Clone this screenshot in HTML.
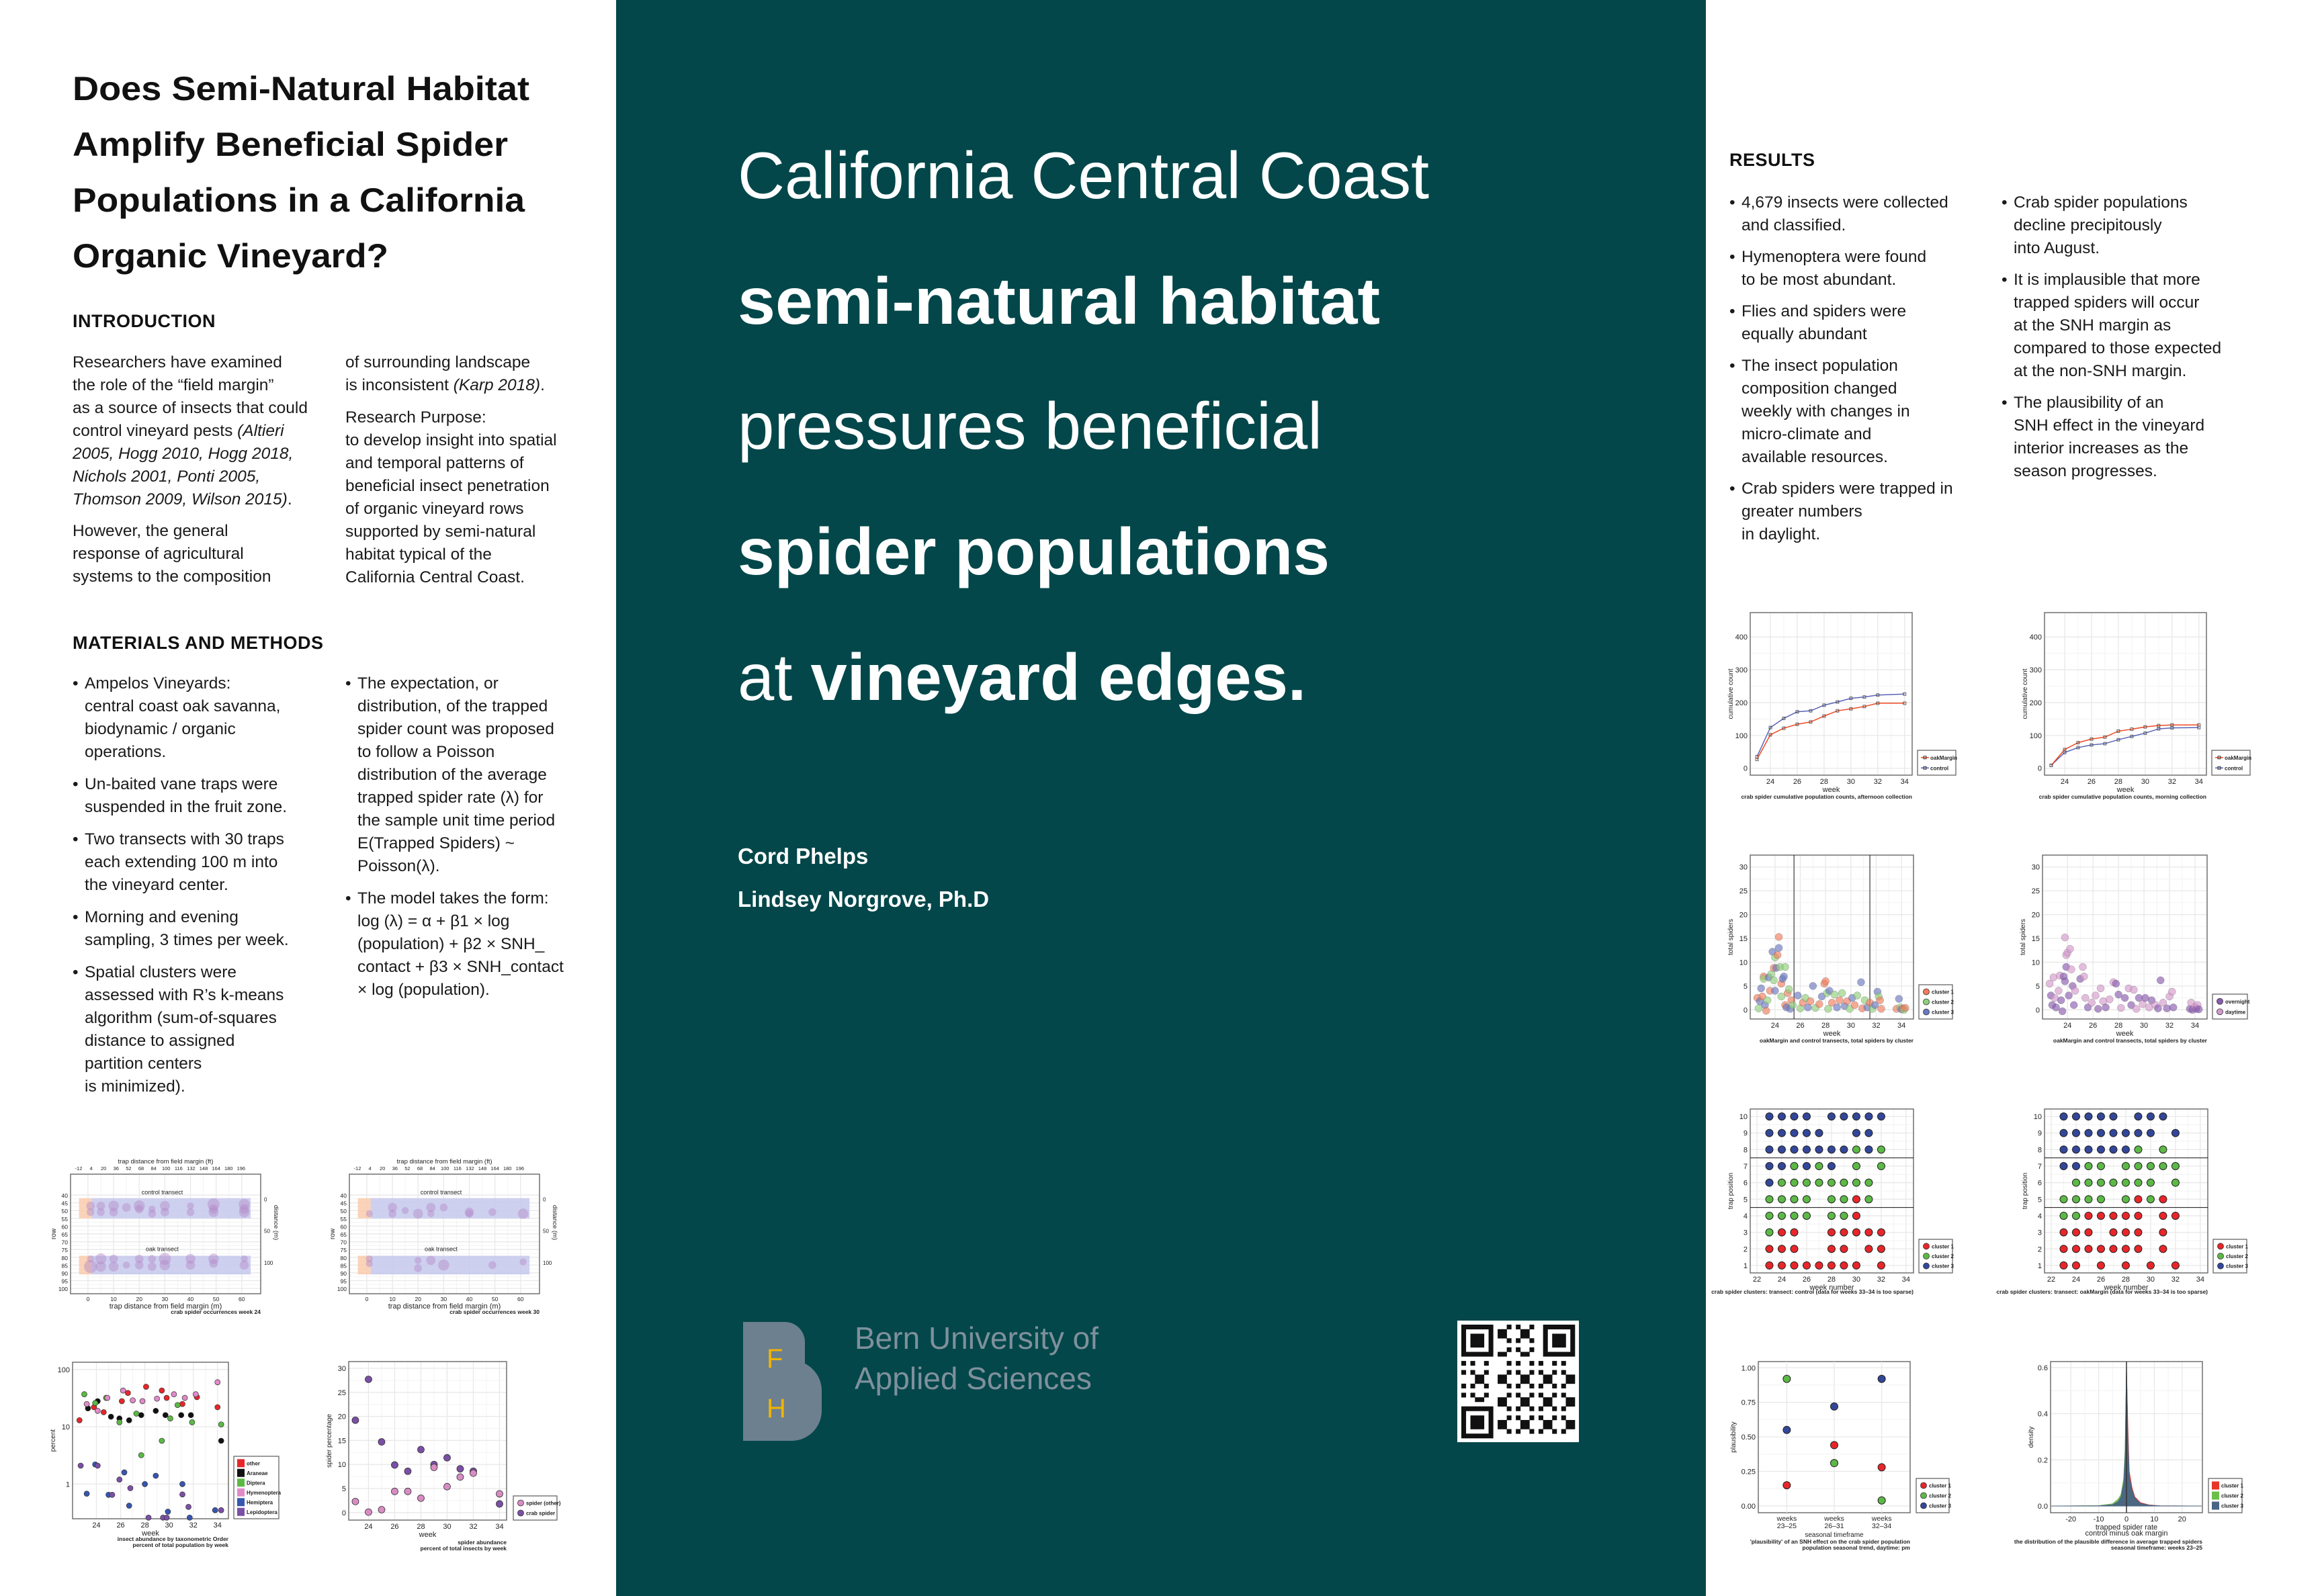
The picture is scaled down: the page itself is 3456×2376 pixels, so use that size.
<!DOCTYPE html>
<html><head><meta charset="utf-8">
<style>
html,body{margin:0;padding:0;}
body{width:3456px;height:2376px;position:relative;overflow:hidden;background:#fff;font-family:"Liberation Sans",sans-serif;color:#111;}
.abs{position:absolute;}
.body{font-size:24.5px;line-height:34px;color:#1a1a1a;white-space:nowrap;}
.h{font-size:27px;font-weight:bold;letter-spacing:0.5px;}
ul{margin:0;padding:0;list-style:none;}
li{position:relative;padding-left:18px;}
li:before{content:"•";position:absolute;left:0;}
.w li{color:#fff;}
</style></head>
<body>
<div class="abs" style="left:0;top:0;width:917px;height:2376px;background:#fff"></div>
<div class="abs" style="left:917px;top:0;width:1622px;height:2376px;background:#03474a"></div>
<div class="abs" style="left:2539px;top:0;width:917px;height:2376px;background:#fff"></div>

<svg class="abs" style="left:0;top:0" width="3456" height="2376" font-family="Liberation Sans, sans-serif">
  <g font-weight="bold" font-size="50" fill="#111">
    <text x="108" y="149" textLength="680" lengthAdjust="spacingAndGlyphs">Does Semi-Natural Habitat</text>
    <text x="108" y="232" textLength="648" lengthAdjust="spacingAndGlyphs">Amplify Beneficial Spider</text>
    <text x="108" y="315" textLength="673" lengthAdjust="spacingAndGlyphs">Populations in a California</text>
    <text x="108" y="398" textLength="470" lengthAdjust="spacingAndGlyphs">Organic Vineyard?</text>
  </g>
  <g font-size="98" fill="#fff">
    <text x="1098" y="295" textLength="1029" lengthAdjust="spacingAndGlyphs">California Central Coast</text>
    <text x="1098" y="482" font-weight="bold" textLength="956" lengthAdjust="spacingAndGlyphs">semi-natural habitat</text>
    <text x="1098" y="668" textLength="870" lengthAdjust="spacingAndGlyphs">pressures beneficial</text>
    <text x="1098" y="855" font-weight="bold" textLength="881" lengthAdjust="spacingAndGlyphs">spider populations</text>
    <text x="1098" y="1042" textLength="846" lengthAdjust="spacingAndGlyphs">at <tspan font-weight="bold">vineyard edges.</tspan></text>
  </g>
  <g>
    <path d="M1106 1968 H1168 A30 30 0 0 1 1198 1998 V2030 A45 45 0 0 1 1223 2070 V2100 A45 45 0 0 1 1178 2145 H1106 Z" fill="#6d808f"/>
    <text x="1141" y="2036" font-size="40" fill="#f0b400">F</text>
    <text x="1141" y="2110" font-size="40" fill="#f0b400">H</text>
  </g>
  <g font-size="46" fill="#7f909c">
    <text x="1272" y="2008">Bern University of</text>
    <text x="1272" y="2068">Applied Sciences</text>
  </g>
  <g id="qr"></g>
</svg>

<div class="abs h" style="left:108px;top:463px">INTRODUCTION</div>
<div class="abs body" style="left:108px;top:523px">Researchers have examined<br>the role of the “field margin”<br>as a source of insects that could<br>control vineyard pests <i>(Altieri</i><br><i>2005, Hogg 2010, Hogg 2018,</i><br><i>Nichols 2001, Ponti 2005,</i><br><i>Thomson 2009, Wilson 2015)</i>.</div>
<div class="abs body" style="left:108px;top:774px">However, the general<br>response of agricultural<br>systems to the composition</div>
<div class="abs body" style="left:514px;top:523px">of surrounding landscape<br>is inconsistent <i>(Karp 2018)</i>.</div>
<div class="abs body" style="left:514px;top:605px">Research Purpose:<br>to develop insight into spatial<br>and temporal patterns of<br>beneficial insect penetration<br>of organic vineyard rows<br>supported by semi-natural<br>habitat typical of the<br>California Central Coast.</div>

<div class="abs h" style="left:108px;top:942px">MATERIALS AND METHODS</div>
<ul class="abs body" style="left:108px;top:1001px">
<li style="margin-bottom:14px">Ampelos Vineyards:<br>central coast oak savanna,<br>biodynamic / organic<br>operations.</li>
<li style="margin-bottom:14px">Un-baited vane traps were<br>suspended in the fruit zone.</li>
<li style="margin-bottom:14px">Two transects with 30 traps<br>each extending 100 m into<br>the vineyard center.</li>
<li style="margin-bottom:14px">Morning and evening<br>sampling, 3 times per week.</li>
<li>Spatial clusters were<br>assessed with R’s k-means<br>algorithm (sum-of-squares<br>distance to assigned<br>partition centers<br>is minimized).</li>
</ul>
<ul class="abs body" style="left:514px;top:1001px">
<li style="margin-bottom:14px">The expectation, or<br>distribution, of the trapped<br>spider count was proposed<br>to follow a Poisson<br>distribution of the average<br>trapped spider rate (λ) for<br>the sample unit time period<br>E(Trapped Spiders) ~<br>Poisson(λ).</li>
<li>The model takes the form:<br>log (λ) = α + β1 × log<br>(population) + β2 × SNH_<br>contact + β3 × SNH_contact<br>× log (population).</li>
</ul>

<div class="abs" style="left:1098px;top:1243px;color:#fff;font-size:33px;line-height:64px;font-weight:bold">Cord Phelps<br>Lindsey Norgrove, Ph.D</div>

<div class="abs h" style="left:2574px;top:223px">RESULTS</div>
<ul class="abs body" style="left:2574px;top:285px">
<li style="margin-bottom:13px">4,679 insects were collected<br>and classified.</li>
<li style="margin-bottom:13px">Hymenoptera were found<br>to be most abundant.</li>
<li style="margin-bottom:13px">Flies and spiders were<br>equally abundant</li>
<li style="margin-bottom:13px">The insect population<br>composition changed<br>weekly with changes in<br>micro-climate and<br>available resources.</li>
<li>Crab spiders were trapped in<br>greater numbers<br>in daylight.</li>
</ul>
<ul class="abs body" style="left:2979px;top:285px">
<li style="margin-bottom:13px">Crab spider populations<br>decline precipitously<br>into August.</li>
<li style="margin-bottom:13px">It is implausible that more<br>trapped spiders will occur<br>at the SNH margin as<br>compared to those expected<br>at the non-SNH margin.</li>
<li>The plausibility of an<br>SNH effect in the vineyard<br>interior increases as the<br>season progresses.</li>
</ul>

<svg id="charts" class="abs" style="left:0;top:0" width="3456" height="2376" font-family="Liberation Sans, sans-serif"></svg>

<script>
// ---------- data ----------
const cumWeeks=[23,24,25,26,27,28,29,30,31,32,34];
const aftOak=[27,102,122,134,141,159,175,181,188,198,198];
const aftControl=[35,124,152,172,175,192,202,213,217,223,226];
const mornOak=[9,57,78,89,95,113,119,126,130,132,132];
const mornControl=[9,48,63,71,75,87,97,107,120,123,124];
const cumYTicks=[0,100,200,300,400];
const weekTicks=[24,26,28,30,32,34];
const weekTicks2=[22,24,26,28,30,32,34];
const clusterPts=[[22.6,2.5,1],[22.7,0.3,2],[22.8,1.8,3],[22.9,4.5,3],[23.0,2.8,1],[23.1,7,1],[23.1,6.5,2],[23.2,1,3],[23.3,-0.2,1],[23.4,2,2],[23.5,6.8,3],[23.6,4,1],[23.7,7.5,2],[23.8,12.2,3],[23.9,8.8,1],[23.9,6.2,2],[24.0,11,2],[24.0,4,3],[24.1,8.8,3],[24.2,11.5,1],[24.3,13,3],[24.3,15.3,1],[24.4,9,2],[24.5,5.5,1],[24.5,2.8,2],[24.6,6.5,3],[24.7,7,3],[24.8,9,2],[24.8,1,1],[24.9,0.5,3],[25.0,3.5,1],[25.1,4.3,2],[25.2,0.2,3],[25.3,2,1],[25.4,1,2],[25.8,3,3],[26.0,0.3,2],[26.2,1.5,1],[26.4,2.5,2],[26.6,0.5,3],[26.8,1.8,1],[27.0,5,3],[27.2,0.4,2],[27.5,1.2,1],[27.7,2.8,3],[27.9,5.5,1],[28.0,6,1],[28.1,3.5,2],[28.2,0.2,2],[28.3,4,3],[28.5,1.5,1],[28.7,3.2,2],[28.9,0.5,3],[29.1,2,1],[29.3,3.5,2],[29.5,0.8,3],[29.7,1.8,1],[29.9,0.2,2],[30.1,2.5,3],[30.3,1,1],[30.5,3,2],[30.8,5.8,3],[30.9,0.3,1],[31.1,2,2],[31.3,0.5,3],[31.5,1.5,1],[31.7,0.2,2],[31.9,1,3],[32.1,3.8,3],[32.2,2.8,2],[32.3,2,1],[32.4,0.2,1],[33.6,0.2,1],[33.8,2.3,3],[33.9,0.5,2],[34.0,0.1,3],[34.1,0.3,1],[34.2,0,2],[34.3,0.4,1]];
const dayPts=[[22.6,5.5,2],[22.7,3,1],[22.8,1,1],[22.9,6.8,2],[23.0,2.5,2],[23.1,0.5,1],[23.3,4,2],[23.4,7.2,2],[23.5,2,1],[23.6,-0.3,1],[23.7,7,1],[23.8,6,1],[23.8,15.2,2],[23.9,11.5,2],[23.9,9,1],[24.0,12,2],[24.1,3,1],[24.2,12.8,2],[24.3,8.5,2],[24.4,5,1],[24.5,1,1],[24.6,4,2],[25.0,6.5,1],[25.2,9,2],[25.3,7,2],[25.4,2.5,2],[25.6,0.5,1],[25.9,1.5,2],[26.2,3,2],[26.4,0.2,1],[26.6,4.5,2],[26.8,1.8,2],[27.0,0.5,1],[27.3,2.2,2],[27.6,5.8,2],[27.8,5.5,1],[28.0,3.2,1],[28.2,0.4,2],[28.5,2.5,1],[28.8,4.5,2],[29.0,1,1],[29.2,4.2,2],[29.4,0.2,2],[29.6,2.5,1],[29.9,1.2,2],[30.1,2.5,1],[30.4,0.5,2],[30.6,2,1],[30.9,1,2],[31.1,0.3,1],[31.3,6.2,1],[31.5,1.5,2],[31.8,0.3,1],[32.0,2.8,2],[32.2,3.8,2],[32.3,0.5,1],[33.6,0.2,1],[33.7,1.5,2],[33.8,0,1],[34.0,0.6,2],[34.1,0.2,1],[34.2,1,2],[34.3,0.1,1]];
const spiderYTicks=[0,5,10,15,20,25,30];
const trapWeeks=[23,24,25,26,27,28,29,30,31,32];
const controlGrid=["bbbb.bbbbb","bbbbb..bb.","bbbbbbbgbg","bbgbgb.g.g","bgggggggg.","gggg.ggrg.","gggg.ggr..","grr..rrrrr","rrr..rr.rr","rrrrrrrr.r"];
const oakGrid=["bbbbb.bbb.","bbbbbbbb.b","bbbbbbg.g.","bbgg.ggggg",".ggggggg.g","gggg.grgr.","ggrrrrr.rr","rrr.rrr.r.","rrrrrrr.r.","rr.r.r.r.r"];
const trapTicks=[1,2,3,4,5,6,7,8,9,10];
const plausCats=["weeks\n23–25","weeks\n26–31","weeks\n32–34"];
const plausC1=[0.15,0.44,0.28];
const plausC2=[0.92,0.31,0.04];
const plausC3=[0.55,0.72,0.92];
const plausTicks=[0,0.25,0.5,0.75,1];
const densX=[-27,-10,-5,-3,-2,-1,-0.5,0,0.5,1,2,3,5,8,12,27];
const densC1=[0,0.001,0.005,0.015,0.03,0.08,0.17,0.6,0.35,0.15,0.08,0.04,0.015,0.005,0.001,0];
const densC2=[0,0.002,0.01,0.03,0.05,0.12,0.25,0.6,0.2,0.09,0.05,0.025,0.01,0.003,0,0];
const densC3=[0,0.001,0.006,0.02,0.04,0.1,0.22,0.62,0.3,0.13,0.07,0.035,0.012,0.004,0.001,0];
const densXTicks=[-20,-10,0,10,20];
const densYTicks=[0,0.2,0.4,0.6];
const map24Dist=[1,1,5,5,10,10,15,20,20,25,25,30,30,40,40,49,49,49,61,61,61, 1,1,5,5,10,10,15,20,20,25,25,30,30,40,40,49,49,61,61];
const map24Row=[47,51,47,51,47,51,48,47,49,49,52,47,51,47,51,46,49,51,46,49,51, 81,86,81,86,81,86,85,81,85,81,86,81,85,81,85,81,84,81,85];
const map24Size=[6,5,6,5,9,6,6,10,6,4,5,8,6,4,5,12,7,8,10,8,9, 4,14,10,9,6,8,4,6,6,5,6,12,9,8,7,9,6,4,7];
const map30Dist=[1,10,10,15,20,25,25,30,40,40,49,61, 1,1,20,20,25,30,49,61];
const map30Row=[52,48,52,50,52,48,52,48,51,52,51,52, 81,84,82,87,82,85,85,83];
const map30Size=[4,7,5,4,8,7,4,5,7,5,5,9, 4,4,4,5,7,10,5,4];
const ftTicks=[-12,4,20,36,52,68,84,100,116,132,148,164,180,196];
const mTicks=[0,10,20,30,40,50,60];
const rowTicks=[40,45,50,55,60,65,70,75,80,85,90,95,100];
const orderNames=["other","Araneae","Diptera","Hymenoptera","Hemiptera","Lepidoptera"];
const orderWeeks=[[22.6,23.8,24.6,26.1,26.6,28.1,29.4,29.8,31.1,32.3,34.0],[23.3,24.1,25.2,25.9,26.7,27.7,28.9,29.7,31.0,31.8,34.3],[23.0,23.9,24.8,25.9,27.3,27.7,29.4,30.1,30.7,31.9,34.3],[23.2,24.1,24.9,26.2,27.0,27.8,29.0,30.4,31.3,32.2,34.0],[23.2,23.9,25.0,26.3,26.7,28.0,28.9,29.9,31.1,31.7,33.8],[22.7,24.1,25.3,25.9,26.8,28.3,29.5,29.8,31.1,31.6,34.3]];
const orderPct=[[13,22,18,28,39,50,43,32,25,33,22],[21,28,15,14,13,16,19,16,16,16,5.7],[37,26,32,12,17,3.2,5.7,14,24,12,11],[25,19,32,43,29,28,31,37,32,37,60],[0.68,2.2,0.65,1.6,0.42,1.0,1.4,0.33,1.0,0.26,0.35],[2.1,2.1,0.65,1.2,0.85,0.26,0.26,0.26,0.66,0.4,0.35]];
const pctTicks=[1,10,100];
const abWeeks=[23,24,25,26,27,28,29,30,31,32,34];
const abCrab=[19.2,27.7,14.7,9.9,8.6,13.1,10.0,11.4,9.1,8.6,1.8];
const abOther=[2.3,0.1,0.6,4.4,4.4,3.0,9.4,5.4,7.4,8.2,3.9];

// ---------- helpers ----------
const NS='http://www.w3.org/2000/svg';
const root=document.getElementById('charts');
function mk(tag,parent){const e=document.createElementNS(NS,tag);parent.appendChild(e);return e;}
function at(e,o){for(const k in o)e.setAttribute(k,o[k]);return e;}
function txt(parent,x,y,s,size,anchor,extra){const t=at(mk('text',parent),Object.assign({x:x,y:y,'font-size':size,'text-anchor':anchor||'middle',fill:'#222'},extra||{}));t.textContent=s;return t;}

function chart(name,b,xd,yd,xt,yt,xlab,ylab,opts){
  opts=opts||{};
  const g=mk('g',root);
  
  
  const X=v=>b.x0+(v-xd[0])/(xd[1]-xd[0])*(b.x1-b.x0);
  const Y=v=>b.y1-(v-yd[0])/(yd[1]-yd[0])*(b.y1-b.y0);
  at(mk('rect',g),{x:b.x0,y:b.y0,width:b.x1-b.x0,height:b.y1-b.y0,fill:'#fff'});
  const grid=mk('g',g);
  
  
  for(let i=0;i<xt.length;i++){
    if(!opts.noXGrid){at(mk('line',grid),{x1:X(xt[i]),x2:X(xt[i]),y1:b.y0,y2:b.y1,stroke:'#e8e8e8','stroke-width':1.3});
      if(i<xt.length-1){const m=(xt[i]+xt[i+1])/2;at(mk('line',grid),{x1:X(m),x2:X(m),y1:b.y0,y2:b.y1,stroke:'#f3f3f3','stroke-width':1});}}
    const lab=txt(g,X(xt[i]),b.y1+(opts.xTickGap||13),opts.xfmt?opts.xfmt(xt[i]):String(xt[i]),opts.tick||11);
    
    
  }
  for(let i=0;i<yt.length;i++){
    const yy=opts.ylog?Y(Math.log10(yt[i])):Y(yt[i]);
    at(mk('line',grid),{x1:b.x0,x2:b.x1,y1:yy,y2:yy,stroke:'#e8e8e8','stroke-width':1.3});
    if(i<yt.length-1&&!opts.ylog){const m=Y((yt[i]+yt[i+1])/2);at(mk('line',grid),{x1:b.x0,x2:b.x1,y1:m,y2:m,stroke:'#f3f3f3','stroke-width':1});}
    const lab=txt(g,b.x0-4,yy+4,opts.yfmt?opts.yfmt(yt[i]):String(yt[i]),opts.tick||11,'end');
    
    
  }
  at(mk('rect',g),{x:b.x0,y:b.y0,width:b.x1-b.x0,height:b.y1-b.y0,fill:'none',stroke:'#707070','stroke-width':1.5});
  if(xlab){const t=txt(g,(b.x0+b.x1)/2,b.y1+(opts.xLabGap||25),xlab,11);}
  if(ylab){const cx=b.x0-(opts.yLabGap||26),cy=(b.y0+b.y1)/2;const t=txt(g,cx,cy,ylab,10,'middle',{transform:`rotate(-90 ${cx} ${cy})`});}
  return {g,X,Y,b};
}
function caption(c,lines,dy){
  lines.forEach((s,i)=>{const t=txt(c.g,c.b.x1,c.b.y1+dy+i*9,s,8.5,'end',{'font-weight':'bold'});
    
    });
}
function legend(parent,box,labels,colors,shape){
  const g=mk('g',parent);
  
  
  at(mk('rect',g),{x:box[0],y:box[1],width:box[2]-box[0],height:box[3]-box[1],fill:'#fff',stroke:'#666','stroke-width':1.3});
  const step=(box[3]-box[1]-6)/labels.length;
  labels.forEach((l,i)=>{
    const cy=box[1]+3+step*(i+0.5);
    const e=mk('g',g);
    
    
    if(shape==='line'){at(mk('line',e),{x1:box[0]+5,x2:box[0]+17,y1:cy,y2:cy,stroke:colors[i],'stroke-width':1.5});at(mk('rect',e),{x:box[0]+9,y:cy-2,width:4,height:4,fill:'none',stroke:'#333'});}
    else if(shape==='square'){at(mk('rect',e),{x:box[0]+5,y:cy-6,width:11,height:12,fill:colors[i]});}
    else{at(mk('circle',e),{cx:box[0]+11,cy:cy,r:4.5,fill:colors[i],stroke:'#333','stroke-width':0.8});}
    txt(e,box[0]+19,cy+3,l,8,'start',{'font-weight':'bold'});
  });
}
const RED='#e8262a',GRN='#5cb946',BLU='#33479a';

// ---------- cumulative charts ----------
function cumChart(name,x0,x1,oak,ctl,cap,lx){
  const c=chart(name,{x0:x0,x1:x1,y0:912,y1:1154},[22.5,34.56],[-21,474],weekTicks,cumYTicks,'week','cumulative count');
  [[ctl,'#5a64b8'],[oak,'#f04a24']].forEach(([arr,col])=>{
    const pl=mk('polyline',c.g);
    at(pl,{points:cumWeeks.map((w,i)=>c.X(w)+','+c.Y(arr[i])).join(' '),fill:'none',stroke:col,'stroke-width':1.5});
    
    
    cumWeeks.forEach((w,i)=>{const p=at(mk('rect',c.g),{x:c.X(w)-2,y:c.Y(arr[i])-2,width:4,height:4,fill:'none',stroke:'#444','stroke-width':0.8});
      
      });
  });
  legend(c.g,[lx,1117,lx+57,1154],['oakMargin','control'],['#f04a24','#5a64b8'],'line');
  caption(c,[cap],35);
}
cumChart('cumulative-afternoon-chart',2605,2846,aftOak,aftControl,'crab spider cumulative population counts, afternoon collection',2854);
cumChart('cumulative-morning-chart',3043,3284,mornOak,mornControl,'crab spider cumulative population counts, morning collection',3292);

// ---------- scatter total spiders ----------
function spiderScatter(name,x0,x1,pts,cols,labels,lbox,vlines){
  const c=chart(name,{x0:x0,x1:x1,y0:1273,y1:1517},[22.04,34.95],[-1.93,32.5],weekTicks,spiderYTicks,'week','total spiders');
  if(vlines)vlines.forEach(v=>{const l=at(mk('line',c.g),{x1:c.X(v),x2:c.X(v),y1:1273,y2:1517,stroke:'#111','stroke-width':1});});
  pts.forEach(p=>{const d=at(mk('circle',c.g),{cx:c.X(p[0]),cy:c.Y(p[1]),r:5.5,fill:cols[p[2]-1],'fill-opacity':0.65,stroke:'#666','stroke-width':0.3});
    
    });
  legend(c.g,lbox,labels,cols);
  caption(c,['oakMargin and control transects, total spiders by cluster'],35);
}
spiderScatter('spiders-by-cluster-chart',2605,2848,clusterPts,['#f07c5c','#8fd07a','#6b78c2'],['cluster 1','cluster 2','cluster 3'],[2856,1466,2906,1517],[25.5,31.5]);
spiderScatter('spiders-by-time-chart',3040,3285,dayPts,['#8a5cb0','#d59acd'],['overnight','daytime'],[3293,1480,3345,1517]);

// ---------- trap position cluster grids ----------
function trapGrid(name,x0,x1,grid,cap,lx){
  const c=chart(name,{x0:x0,x1:x1,y0:1651,y1:1895},[21.46,34.6],[0.55,10.45],weekTicks2,trapTicks,'week number','trap position');
  [7.5,4.5].forEach(v=>{const l=at(mk('line',c.g),{x1:x0,x2:x1,y1:c.Y(v),y2:c.Y(v),stroke:'#111','stroke-width':1});});
  const colMap={r:RED,g:GRN,b:BLU};
  grid.forEach((row,ri)=>{const pos=10-ri;
    trapWeeks.forEach((w,wi)=>{const ch=row[wi];if(ch==='.')return;
      const d=at(mk('circle',c.g),{cx:c.X(w),cy:c.Y(pos),r:5.5,fill:colMap[ch],stroke:'#222','stroke-width':1});
      
      });});
  legend(c.g,[lx,1845,lx+50,1895],['cluster 1','cluster 2','cluster 3'],[RED,GRN,BLU]);
  caption(c,[cap],31);
}
trapGrid('control-clusters-chart',2605,2848,controlGrid,'crab spider clusters: transect: control (data for weeks 33–34 is too sparse)',2856);
trapGrid('oak-clusters-chart',3043,3286,oakGrid,'crab spider clusters: transect: oakMargin (data for weeks 33–34 is too sparse)',3294);

// ---------- plausibility ----------
(function(){
  const c=chart('plausibility-chart',{x0:2617,x1:2843,y0:2027,y1:2252},[-0.6,2.6],[-0.049,1.045],[],plausTicks,null,'plausibility',{yfmt:v=>v.toFixed(2),yLabGap:34});
  plausCats.forEach((s,i)=>{at(mk('line',c.g),{x1:c.X(i),x2:c.X(i),y1:2027,y2:2252,stroke:'#e8e8e8','stroke-width':1.3});
    s.split('\n').forEach((p,j)=>{const t=txt(c.g,c.X(i),2264+j*11,p,10.5);});});
  txt(c.g,2730,2288,'seasonal timeframe',10);
  [[plausC1,RED],[plausC2,GRN],[plausC3,BLU]].forEach(([arr,col])=>arr.forEach((v,i)=>{
    const d=at(mk('circle',c.g),{cx:c.X(i),cy:c.Y(v),r:5.5,fill:col,stroke:'#222','stroke-width':1});
    
    }));
  legend(c.g,[2852,2201,2901,2252],['cluster 1','cluster 2','cluster 3'],[RED,GRN,BLU]);
  caption(c,["'plausibility' of an SNH effect on the crab spider population",'population seasonal trend, daytime: pm'],46);
})();

// ---------- density ----------
(function(){
  const c=chart('density-chart',{x0:3052,x1:3278,y0:2027,y1:2252},[-27.3,27.3],[-0.029,0.626],densXTicks,densYTicks,'trapped spider rate','density',{yfmt:v=>v.toFixed(1)});
  txt(c.g,3165,2286,'control minus oak margin',11);
  [[densC1,'#e8362a',0.9],[densC2,'#6cc04a',0.9],[densC3,'#4a6485',0.95]].forEach(([arr,col,op])=>{
    const pts=densX.map((x,i)=>c.X(x)+','+c.Y(arr[i])).join(' ');
    const a=at(mk('polygon',c.g),{points:c.X(densX[0])+','+c.Y(0)+' '+pts+' '+c.X(densX[densX.length-1])+','+c.Y(0),fill:col,'fill-opacity':op,stroke:col,'stroke-width':0.8});
    
    });
  const l=at(mk('line',c.g),{x1:c.X(0),x2:c.X(0),y1:2027,y2:2252,stroke:'#333','stroke-width':1.5});
  
  
  legend(c.g,[3287,2201,3337,2252],['cluster 1','cluster 2','cluster 3'],['#e8362a','#6cc04a','#4a6485'],'square');
  caption(c,['the distribution of the plausible difference in average trapped spiders','seasonal timeframe: weeks 23–25'],46);
})();

// ---------- occurrence maps ----------
function occMap(name,x0,x1,dist,row,size,cap){
  const c=chart(name,{x0:x0,x1:x1,y0:1748,y1:1926},[-6.8,67.4],[103.4,26.6],mTicks,rowTicks,'trap distance from field margin (m)','row',{tick:8.5,xTickGap:11,xLabGap:22,yLabGap:22});
  [[42,55],[79,91]].forEach(([a,b2])=>{
    const o=at(mk('rect',c.g),{x:c.X(-3.5),y:c.Y(a),width:c.X(1.5)-c.X(-3.5),height:c.Y(b2)-c.Y(a),fill:'#f9c8a8','fill-opacity':0.8});
    
    
    const r=at(mk('rect',c.g),{x:c.X(1.5),y:c.Y(a),width:c.X(63.5)-c.X(1.5),height:c.Y(b2)-c.Y(a),fill:'#c5c8ec','fill-opacity':0.85});
    
    });
  txt(c.g,c.X(29),c.Y(39.5),'control transect',9);
  txt(c.g,c.X(29),c.Y(76),'oak transect',9);
  dist.forEach((d,i)=>{const b=at(mk('circle',c.g),{cx:c.X(d),cy:c.Y(row[i]),r:Math.sqrt(size[i])*2.6,fill:'#b48ac8','fill-opacity':0.45});
    
    });
  ftTicks.forEach(f=>{const t=txt(c.g,c.X(f/3.28),1742,String(f),7.5);});
  txt(c.g,(x0+x1)/2,1732,'trap distance from field margin (ft)',9.5);
  [[0,42.7],[50,63],[100,83.6]].forEach(([v,r])=>{txt(c.g,x1+5,c.Y(r)+3,String(v),8,'start');});
  const cx=x1+20,cy=1820;txt(c.g,cx,cy,'distance (m)',9.5,'middle',{transform:`rotate(90 ${cx} ${cy})`});
  caption(c,[cap],30);
}
occMap('occurrence-week24-map',105,388,map24Dist,map24Row,map24Size,'crab spider occurrences week 24');
occMap('occurrence-week30-map',520,803,map30Dist,map30Row,map30Size,'crab spider occurrences week 30');

// ---------- insect abundance ----------
(function(){
  const c=chart('insect-abundance-chart',{x0:108,x1:340,y0:2028,y1:2261},[22.03,34.9],[-0.605,2.127],weekTicks,pctTicks,'week','percent',{ylog:true});
  const cols=[RED,'#111',GRN,'#e08ac8','#3656b0','#7b4fa6'];
  orderWeeks.forEach((ws,k)=>ws.forEach((w,i)=>{
    const d=at(mk('circle',c.g),{cx:c.X(w),cy:c.Y(Math.log10(orderPct[k][i])),r:4,fill:cols[k],stroke:'#333','stroke-width':0.7});
    
    }));
  legend(c.g,[348,2168,415,2261],orderNames,cols,'square');
  caption(c,['insect abundance by taxonometric Order','percent of total population by week'],33);
})();

// ---------- spider abundance ----------
(function(){
  const c=chart('spider-abundance-chart',{x0:519,x1:754,y0:2027,y1:2263},[22.49,34.54],[-1.56,31.4],weekTicks,spiderYTicks,'week','spider percentage');
  [[abCrab,'#7b4fa6'],[abOther,'#d98cc4']].forEach(([arr,col])=>abWeeks.forEach((w,i)=>{
    const d=at(mk('circle',c.g),{cx:c.X(w),cy:c.Y(arr[i]),r:5,fill:col,stroke:'#333','stroke-width':0.8});
    
    }));
  legend(c.g,[764,2227,829,2263],['spider (other)','crab spider'],['#d98cc4','#7b4fa6']);
  caption(c,['spider abundance','percent of total insects by week'],36);
})();

// ---------- QR code ----------
(function(){
  const q=document.getElementById('qr');
  const x0=2169,y0=1966,S=181,N=25,m=(S-12)/N;
  at(mk('rect',q),{x:x0,y:y0,width:S,height:S,fill:'#fff'});
  const on=(i,j)=>{
    const f=(a,b)=>{const di=i-a,dj=j-b;if(di<0||dj<0||di>6||dj>6)return null;return (di===0||di===6||dj===0||dj===6||(di>=2&&di<=4&&dj>=2&&dj<=4));};
    let r=f(0,0);if(r!==null)return r;r=f(0,N-7);if(r!==null)return r;r=f(N-7,0);if(r!==null)return r;
    if(i===7||j===7||(i===N-8&&j<8)||(j===N-8&&i<8))return false;
    return ((i*7+j*13+i*j*3)%5)<2;};
  for(let i=0;i<N;i++)for(let j=0;j<N;j++)if(on(i,j))at(mk('rect',q),{x:x0+6+j*m,y:y0+6+i*m,width:m+0.3,height:m+0.3,fill:'#111'});
})();
</script>
</body></html>
